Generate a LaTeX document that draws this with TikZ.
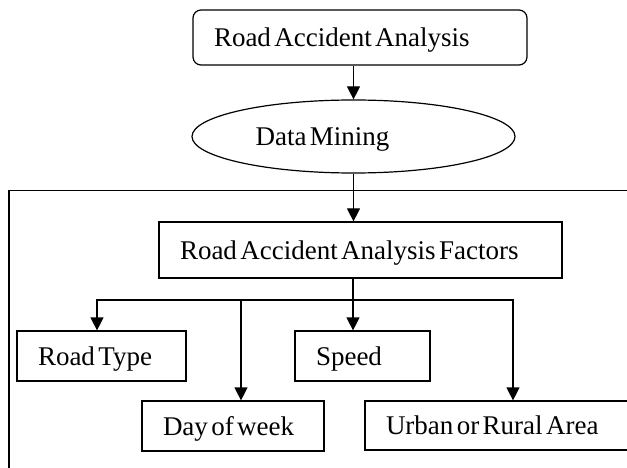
\documentclass[tikz,border=0pt]{standalone}
\usepackage{fontspec}
\setmainfont[WordSpace=0.5]{Liberation Serif}
\usetikzlibrary{arrows.meta,shapes.geometric}
\begin{document}
\begin{tikzpicture}[x=1pt,y=-1pt,line width=1.2pt,
  txt/.style={font=\fontsize{27}{29}\selectfont,text height=24pt,text depth=6pt},
  box/.style={draw,rectangle,txt,align=flush left,inner xsep=21pt,inner ysep=0pt},
  arr/.style={-{Triangle[width=13pt,length=13pt]}}]
\useasboundingbox (0,0) rectangle (627,468);
\clip (0,0) rectangle (627,468);
% nodes
\node[box,rounded corners=8pt,minimum width=334pt,minimum height=55pt,text width=292pt] (top) at (360,37.5) {\mbox{Road Accident Analysis}};
\node[draw,ellipse,minimum width=323pt,minimum height=73pt,inner sep=0pt,
      label={[txt,inner sep=0pt,xshift=-31pt]center:Data Mining}] (dm) at (353.5,136.5) {};
\node[box,minimum width=403pt,minimum height=56pt,text width=361pt] (fac) at (360.5,250) {\mbox{Road Accident Analysis Factors}};
\node[box,minimum width=169pt,minimum height=50pt,text width=127pt] (rt) at (101.5,356) {\mbox{Road Type}};
\node[box,minimum width=135pt,minimum height=50pt,text width=93pt] (sp) at (362.5,356) {\mbox{Speed}};
\node[box,minimum width=182pt,minimum height=50pt,text width=140pt] (dw) at (233,426) {\mbox{Day of week}};
\node[box,minimum width=280pt,minimum height=49pt,text width=238pt] (ur) at (505,425.5) {\mbox{Urban or Rural Area}};
% frame
\draw (640,190.5) -- (9,190.5) -- (9,480);
% branch points
\coordinate (b1) at (97,300);
\coordinate (b2) at (241,300);
\coordinate (b3) at (353,300);
\coordinate (b4) at (513,300);
% connectors
\draw[arr] (top.south -| dm.center) -- (dm.north);
\draw[arr] (dm.south) -- (dm.south |- fac.north);
\draw[arr] (fac.south -| b3) -- (b3 |- sp.north);
\draw[arr] (b3) -- (b1) -- (b1 |- rt.north);
\draw[arr] (b3) -- (b4) -- (b4 |- ur.north);
\draw[arr] (b2) -- (b2 |- dw.north);
\end{tikzpicture}
\end{document}
